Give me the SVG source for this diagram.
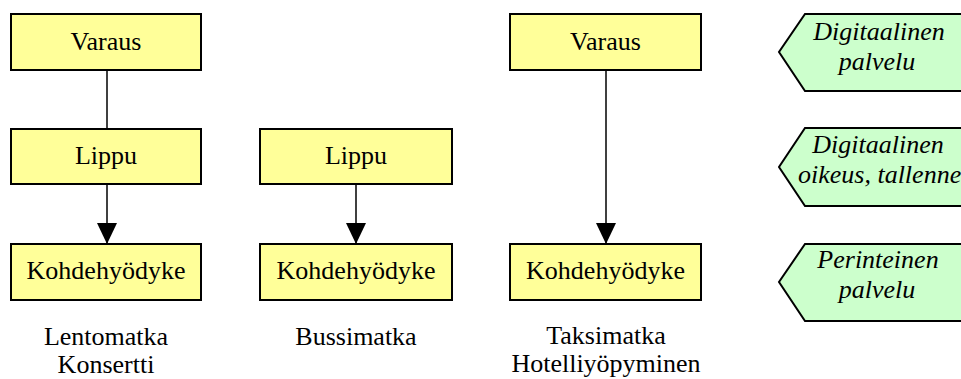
<svg xmlns="http://www.w3.org/2000/svg" width="961" height="379" viewBox="0 0 961 379">
<defs>
<style>
.box{fill:#FFFF99;stroke:#000;stroke-width:2}
.tag{fill:#CCFFCC;stroke:#000;stroke-width:2}
.t{font-family:"Liberation Serif","Times New Roman",serif;font-size:26px;fill:#000;text-anchor:middle}
.i{font-style:italic}
.c{stroke:#000;stroke-width:1.5;fill:none}
</style>
<marker id="ah" viewBox="0 0 21 20" refX="21" refY="10" markerWidth="21" markerHeight="20" markerUnits="userSpaceOnUse" orient="auto">
<path d="M0,0 L21,10 L0,20 z" fill="#000"/>
</marker>
</defs>
<rect width="961" height="379" fill="#fff"/>
<g id="connectors">
<line class="c" x1="107" y1="70" x2="107" y2="129"/>
<line class="c" x1="107" y1="184" x2="107" y2="244" marker-end="url(#ah)"/>
<line class="c" x1="356" y1="184" x2="356" y2="244" marker-end="url(#ah)"/>
<line class="c" x1="606" y1="70" x2="606" y2="244" marker-end="url(#ah)"/>
</g>
<g id="varaus1"><rect class="box" x="11" y="14" width="190" height="56"/><text class="t" x="106" y="50">Varaus</text></g>
<g id="lippu1"><rect class="box" x="11" y="129" width="190" height="55"/><text class="t" x="106" y="164">Lippu</text></g>
<g id="kohde1"><rect class="box" x="11" y="244" width="190" height="56"/><text class="t" x="106" y="279">Kohdehyödyke</text></g>
<g id="lippu2"><rect class="box" x="260" y="129" width="192" height="55"/><text class="t" x="356" y="164">Lippu</text></g>
<g id="kohde2"><rect class="box" x="260" y="244" width="192" height="56"/><text class="t" x="356" y="279">Kohdehyödyke</text></g>
<g id="varaus3"><rect class="box" x="510" y="14" width="191" height="56"/><text class="t" x="605.5" y="50">Varaus</text></g>
<g id="kohde3"><rect class="box" x="510" y="244" width="191" height="56"/><text class="t" x="605.5" y="279">Kohdehyödyke</text></g>
<g id="label1"><text class="t" x="106" y="345">Lentomatka</text><text class="t" x="106" y="373">Konsertti</text></g>
<g id="label2"><text class="t" x="356" y="345">Bussimatka</text></g>
<g id="label3"><text class="t" x="606" y="344">Taksimatka</text><text class="t" x="606" y="372">Hotelliyöpyminen</text></g>
<g id="tag1"><polygon class="tag" points="805,14 980,14 980,91 805,91 779,52"/><text class="t i" x="879" y="40">Digitaalinen</text><text class="t i" x="877" y="70">palvelu</text></g>
<g id="tag2"><polygon class="tag" points="805,128 980,128 980,206 805,206 779,167"/><text class="t i" x="878" y="153">Digitaalinen</text><text class="t i" x="798" y="183" style="text-anchor:start">oikeus, tallenne</text></g>
<g id="tag3"><polygon class="tag" points="805,244 980,244 980,321 805,321 779,282"/><text class="t i" x="878" y="268">Perinteinen</text><text class="t i" x="877" y="298">palvelu</text></g>
</svg>
